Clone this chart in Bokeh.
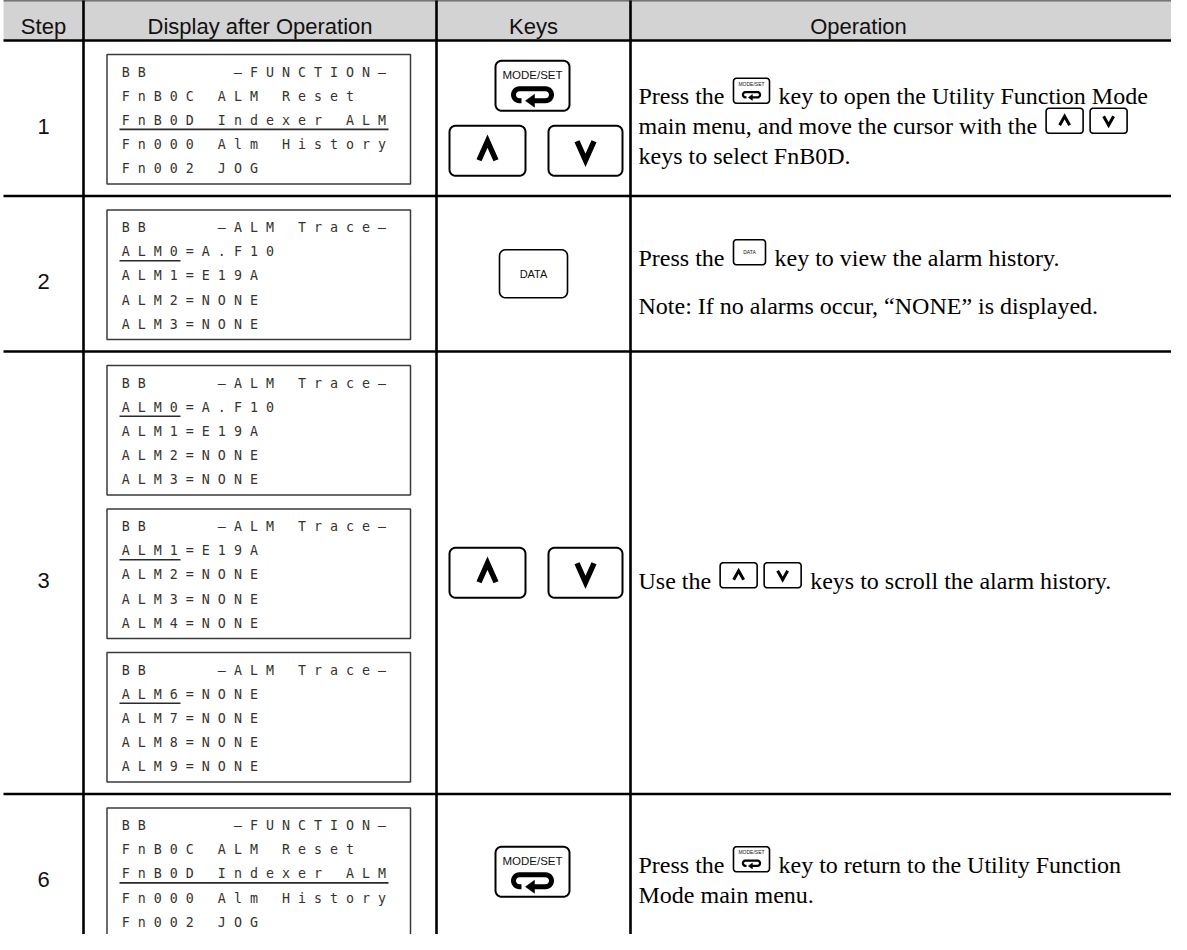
import numpy as np
from bokeh.plotting import figure
from bokeh.models import Range1d
from bokeh.core.properties import value
from bokeh.embed import file_html
from bokeh.resources import INLINE

# ---------------- data ----------------
header_labels = ["Step", "Display after Operation", "Keys", "Operation"]
step_labels = ["1", "2", "3", "6"]

screen_function = ["BB     —FUNCTION—", "FnB0C ALM Reset", "FnB0D Indexer ALM",
                   "Fn000 Alm History", "Fn002 JOG"]
screen_trace_0 = ["BB    —ALM Trace—", "ALM0=A.F10", "ALM1=E19A", "ALM2=NONE", "ALM3=NONE"]
screen_trace_1 = ["BB    —ALM Trace—", "ALM1=E19A", "ALM2=NONE", "ALM3=NONE", "ALM4=NONE"]
screen_trace_6 = ["BB    —ALM Trace—", "ALM6=NONE", "ALM7=NONE", "ALM8=NONE", "ALM9=NONE"]
cursor_function = (2, 17)   # (line, underlined characters)
cursor_trace = (1, 4)

row_screens = [[screen_function], [screen_trace_0],
               [screen_trace_0, screen_trace_1, screen_trace_6], [screen_function]]
row_cursors = [[cursor_function], [cursor_trace], [cursor_trace] * 3, [cursor_function]]
row_keys = [["modeset", "updown"], ["data"], ["updown"], ["modeset"]]
row_operation = [
    [["Press the", "@modeset", "key to open the Utility Function Mode"],
     ["main menu, and move the cursor with the", "@up", "@down"],
     ["keys to select FnB0D."]],
    [["Press the", "@data", "key to view the alarm history."],
     ["Note: If no alarms occur, “NONE” is displayed."]],
    [["Use the", "@up", "@down", "keys to scroll the alarm history."]],
    [["Press the", "@modeset", "key to return to the Utility Function"],
     ["Mode main menu."]],
]
row_line_gap = [30, 48, 30, 30]

# ---------------- layout ----------------
COL = [11, 91, 444, 638, 1200]
TOP, HEAD_B = 7.5, 48
PAD_T, BOX_H, BOX_GAP, PAD_B = 14, 129.5, 14, 12
BOX_L, BOX_R = 114.5, 418
LCD_X0, LCD_PITCH, LCD_LINE = 129.3, 16, 24.2
OP_X, OP_FS = 646, 24

row_tops = [HEAD_B]
for scr in row_screens:
    n = len(scr)
    row_tops.append(row_tops[-1] + PAD_T + n * BOX_H + (n - 1) * BOX_GAP + PAD_B)

TIMES = dict(zip("ABCDEFGHIJKLMNOPQRSTUVWXYZ",
                 [722, 667, 667, 722, 611, 556, 722, 722, 333, 389, 722, 611, 889, 722, 722,
                  556, 722, 667, 556, 611, 722, 722, 944, 722, 722, 611]))
TIMES.update(zip("abcdefghijklmnopqrstuvwxyz",
                 [444, 500, 444, 500, 444, 333, 500, 500, 278, 278, 500, 278, 778, 500, 500,
                  500, 500, 333, 389, 278, 500, 500, 722, 500, 500, 444]))
TIMES.update({" ": 250, ",": 250, ".": 250, ":": 278, "“": 444, "”": 444})
for d in "0123456789":
    TIMES[d] = 500


def tw(s, fs=OP_FS):
    return sum(TIMES.get(c, 500) for c in s) / 1000.0 * fs


def rrect(l, t, r, b, rad, n=6):
    xs, ys = [], []
    for cx, cy, a0 in [(l + rad, t + rad, 180), (r - rad, t + rad, 270),
                       (r - rad, b - rad, 0), (l + rad, b - rad, 90)]:
        for a in np.linspace(a0, a0 + 90, n):
            xs.append(cx + rad * np.cos(np.radians(a)))
            ys.append(cy + rad * np.sin(np.radians(a)))
    return xs, ys


p = figure(width=1171, height=934, x_range=Range1d(8, 1179), y_range=Range1d(942, 8),
           output_backend="svg", toolbar_location=None, x_axis_location=None,
           y_axis_location=None, min_border=0, outline_line_color=None)
p.grid.visible = False
p.background_fill_color = "white"

# collectors
box_xs, box_ys, box_lw = [], [], []
line_xs, line_ys, line_w = [], [], []
tri_xs, tri_ys = [], []
texts = {}


def add_text(key, x, y, s):
    d = texts.setdefault(key, dict(x=[], y=[], text=[]))
    d["x"].append(x); d["y"].append(y); d["text"].append(s)


def loop_icon(cx, cy, s):
    a, r = 13 * s, 6 * s
    xs = [cx - a + 2 * s, cx - a]
    ys = [cy + r, cy + r]
    for ang in np.linspace(90, 270, 14):
        xs.append(cx - a + r * np.cos(np.radians(ang)))
        ys.append(cy + r * np.sin(np.radians(ang)))
    xs.append(cx + a); ys.append(cy - r)
    for ang in np.linspace(-90, 90, 14):
        xs.append(cx + a + r * np.cos(np.radians(ang)))
        ys.append(cy + r * np.sin(np.radians(ang)))
    xs.append(cx + 1 * s); ys.append(cy + r)
    line_xs.append(xs); line_ys.append(ys); line_w.append(5 * s)
    tri_xs.append([cx - 7 * s, cx + 2 * s, cx + 2 * s])
    tri_ys.append([cy + r, cy + r - 6.5 * s, cy + r + 6.5 * s])


def chevron(cx, cy, hw, hh, up, lw):
    if up:
        ys = [cy + hh, cy - hh, cy + hh]
    else:
        ys = [cy - hh, cy + hh, cy - hh]
    line_xs.append([cx - hw, cx, cx + hw]); line_ys.append(ys); line_w.append(lw)


def key_box(l, t, r, b, rad, lw):
    xs, ys = rrect(l, t, r, b, rad)
    box_xs.append(xs); box_ys.append(ys); box_lw.append(lw)


# header background
p.quad(left=[COL[0]], right=[COL[-1]], top=[TOP], bottom=[HEAD_B],
       fill_color="#d3d3d3", line_color=None)

# table rules
hx, hy = [], []
for yv in [TOP, HEAD_B] + row_tops[1:]:
    hx.append([COL[0], COL[-1]]); hy.append([yv, yv])
for xv in COL[1:4]:
    hx.append([xv, xv]); hy.append([TOP, row_tops[-1]])
p.multi_line(hx, hy, line_color="black", line_width=2.6)

# header texts
col_centers = [(COL[0] + COL[1]) / 2, (COL[1] + COL[2]) / 2, (COL[2] + COL[3]) / 2, 866]
for c, lab in zip(col_centers, header_labels):
    add_text("head", c, 33.5, lab)

lcd_boxes_l, lcd_boxes_r, lcd_boxes_t, lcd_boxes_b = [], [], [], []
ul_xs, ul_ys = [], []

for ri, step in enumerate(step_labels):
    r_top, r_bot = row_tops[ri], row_tops[ri + 1]
    rc = (r_top + r_bot) / 2
    add_text("head", col_centers[0], rc + 8, step)

    # LCD screens
    for si, (scr, cur) in enumerate(zip(row_screens[ri], row_cursors[ri])):
        bt = r_top + PAD_T + si * (BOX_H + BOX_GAP)
        lcd_boxes_l.append(BOX_L); lcd_boxes_r.append(BOX_R)
        lcd_boxes_t.append(bt); lcd_boxes_b.append(bt + BOX_H)
        for li, line in enumerate(scr):
            yl = bt + 17.5 + li * LCD_LINE
            add_text("lcd", LCD_X0, yl, "\u00a0".join(line))
        li, n = cur
        yu = bt + 17.5 + li * LCD_LINE + 9
        ul_xs.append([LCD_X0 - 2.3, LCD_X0 - 1.3 + LCD_PITCH * (n - 1) + 12])
        ul_ys.append([yu, yu])

    # keys column
    heights = {"modeset": 50, "updown": 50, "data": 48}
    tot = sum(heights[k] for k in row_keys[ri]) + 15 * (len(row_keys[ri]) - 1)
    y = rc - tot / 2
    for k in row_keys[ri]:
        h = heights[k]
        if k == "modeset":
            key_box(503, y, 577, y + h, 6, 2)
            add_text("keylab", 540, y + 14, "MODE/SET")
            loop_icon(540, y + 34, 1.0)
        elif k == "data":
            key_box(507, y, 575, y + h, 6, 1.6)
            add_text("datalab", 541, y + h / 2, "DATA")
        else:
            key_box(457, y, 533, y + h, 6, 2)
            key_box(556, y, 630, y + h, 6, 2)
            chevron(495, y + h / 2, 8.5, 9.5, True, 5.5)
            chevron(593, y + h / 2, 8.5, 9.5, False, 5.5)
        y += h + 15

    # operation column
    lines = row_operation[ri]
    gap = row_line_gap[ri]
    for li, segs in enumerate(lines):
        base = rc + 8 + (li - (len(lines) - 1) / 2) * gap
        x = OP_X
        prev = None
        for seg in segs:
            if seg.startswith("@"):
                kind = seg[1:]
                if prev == "text":
                    x += tw(" ") + 3
                elif prev == "icon":
                    x += 7
                w = {"modeset": 36, "up": 37, "down": 37, "data": 32}[kind]
                t, b = base - 18, base + 7
                key_box(x, t, x + w, b, 3, 1.6)
                cx, cy = x + w / 2, (t + b) / 2
                if kind == "modeset":
                    add_text("tiny", cx, t + 5.5, "MODE/SET")
                    loop_icon(cx, cy + 4, 0.45)
                elif kind == "data":
                    add_text("tiny", cx, cy, "DATA")
                else:
                    chevron(cx, cy, 5, 4.5, kind == "up", 3)
                x += w
                prev = "icon"
            else:
                if prev == "icon":
                    x += 3 + tw(" ")
                add_text("op", x, base, seg)
                x += tw(seg)
                prev = "text"

# LCD boxes and cursors
p.quad(left=lcd_boxes_l, right=lcd_boxes_r, top=lcd_boxes_t, bottom=lcd_boxes_b,
       fill_color="white", line_color="#3a3a3a", line_width=1.5)
p.multi_line(ul_xs, ul_ys, line_color="#2a2a2a", line_width=1.6)

# keys
p.patches(box_xs, box_ys, fill_color="white", line_color="black", line_width=box_lw)
p.multi_line(line_xs, line_ys, line_color="black", line_width=line_w,
             line_join="miter", line_cap="butt")
p.patches(tri_xs, tri_ys, fill_color="black", line_color="black", line_width=0.5)

styles = {
    "head": dict(text_font=value("Liberation Sans"), text_font_size="22px",
                 text_align="center", text_baseline="alphabetic", text_color="#111111"),
    "lcd": dict(text_font=value("DejaVu Sans Mono"), text_font_size="13.3px",
                text_align="left", text_baseline="middle", text_color="#333333"),
    "keylab": dict(text_font=value("Liberation Sans"), text_font_size="11.5px",
                   text_align="center", text_baseline="middle", text_color="#111111"),
    "datalab": dict(text_font=value("Liberation Sans"), text_font_size="11px",
                    text_align="center", text_baseline="middle", text_color="#111111"),
    "tiny": dict(text_font=value("Liberation Sans"), text_font_size="5px",
                 text_align="center", text_baseline="middle", text_color="#111111"),
    "op": dict(text_font=value("Liberation Serif"), text_font_size="24px",
               text_align="left", text_baseline="alphabetic", text_color="#000000"),
}
for key, d in texts.items():
    p.text(x=d["x"], y=d["y"], text=d["text"], **styles[key])

open("out.html", "w").write(file_html(p, INLINE))
